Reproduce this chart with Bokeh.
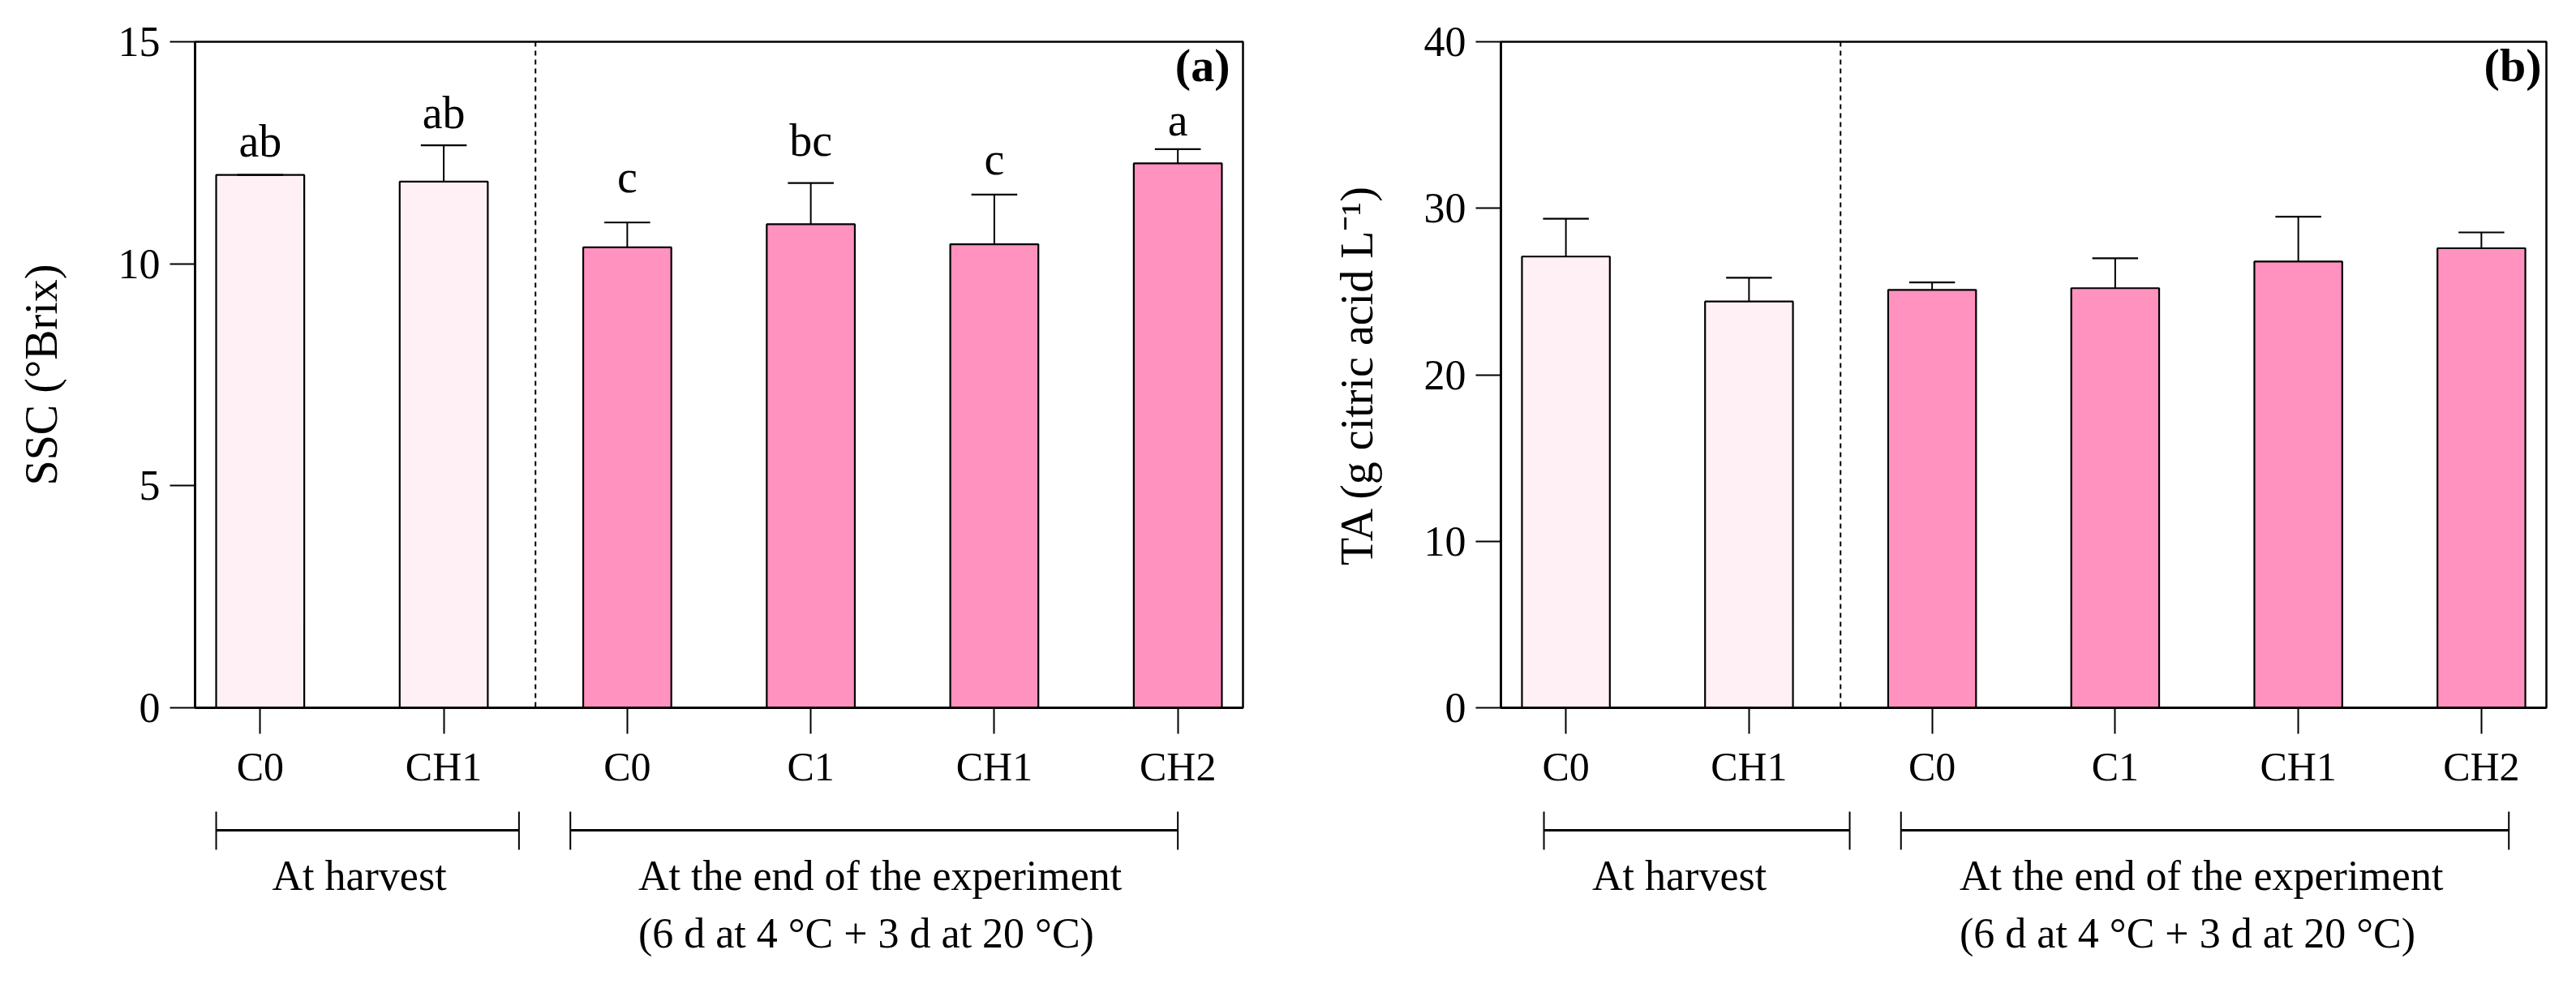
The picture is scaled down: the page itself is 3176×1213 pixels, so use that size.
from bokeh.plotting import figure
from bokeh.layouts import row, column
from bokeh.models import Range1d, FixedTicker, Span, ColumnDataSource
from bokeh.core.properties import value
from bokeh.embed import file_html
from bokeh.resources import INLINE

FONT = "Liberation Serif"

# treatments, in plotting order (2 at harvest, 4 at the end of the experiment)
labels = ["C0", "CH1", "C0", "C1", "CH1", "CH2"]
stage = ["harvest", "harvest", "end", "end", "end", "end"]
stage_colors = {"harvest": "#FFF0F5", "end": "#FF92BF"}

# (a) soluble solids content
ssc = [12.0, 11.85, 10.37, 10.89, 10.44, 12.26]
ssc_err = [0.0, 0.82, 0.56, 0.93, 1.12, 0.32]
ssc_letters = ["ab", "ab", "c", "bc", "c", "a"]
ssc_letter_y = [12.43, 13.07, 11.62, 12.46, 12.03, 12.90]

# (b) titratable acidity
ta = [27.1, 24.4, 25.1, 25.2, 26.8, 27.6]
ta_err = [2.27, 1.43, 0.45, 1.8, 2.69, 0.95]

group_texts = ["At harvest", "At the end of the experiment", "(6 d at 4 \u00b0C + 3 d at 20 \u00b0C)"]

H_TOP, H_BOT = 992, 219
X0, X1 = -0.355, 5.355
DY = -18  # text glyphs sit a little low, lift them


def panel(vals, errs, letters, letter_y, ytop, ystep, ytitle, tag, tag_dx,
          width, border_l, border_r, title_standoff, brackets, text_x):
    n = len(vals)
    xs = list(range(n))
    hi = [v + e for v, e in zip(vals, errs)]
    src = ColumnDataSource(dict(x=xs, top=vals, hi=hi,
                                color=[stage_colors[s] for s in stage]))

    p = figure(width=width, height=H_TOP, x_range=Range1d(X0, X1), y_range=Range1d(0, ytop),
               toolbar_location=None, output_backend="svg",
               min_border_left=border_l, min_border_right=border_r,
               min_border_top=51, min_border_bottom=120)
    p.grid.visible = False
    p.outline_line_color = "black"
    p.outline_line_width = 2.5
    p.outline_line_alpha = 1.0

    p.vbar(x="x", top="top", width=0.48, bottom=0, fill_color="color",
           line_color="black", line_width=2.2, source=src)
    p.segment(x0="x", y0="top", x1="x", y1="hi", line_color="black", line_width=2, source=src)
    p.segment(x0=[x - 0.125 for x in xs], y0=hi, x1=[x + 0.125 for x in xs], y1=hi,
              line_color="black", line_width=2.2)

    if letters:
        p.text(x=xs, y=letter_y, text=letters, y_offset=DY, text_font=value(FONT),
               text_font_size="56px", text_align="center", text_baseline="alphabetic",
               text_color="black")

    p.text(x=[X1], y=[ytop], text=[tag], x_offset=tag_dx, y_offset=14 + DY,
           text_font=value(FONT), text_font_size="58px", text_font_style="bold",
           text_align="right", text_baseline="top", text_color="black")

    n_harvest = stage.count("harvest")
    p.add_layout(Span(location=n_harvest - 0.5, dimension="height", line_color="black",
                      line_width=2, line_dash="6 5"))

    xa = p.xaxis[0]
    xa.ticker = FixedTicker(ticks=xs)
    xa.major_label_overrides = {x: lab for x, lab in zip(xs, labels)}
    xa.major_tick_out = 32
    xa.major_tick_in = 0
    xa.minor_tick_line_color = None
    xa.axis_line_width = 3
    xa.major_tick_line_width = 2
    xa.major_label_standoff = 12
    xa.major_label_text_font = FONT
    xa.major_label_text_font_size = "50px"
    xa.major_label_text_color = "black"

    ya = p.yaxis[0]
    ya.ticker = FixedTicker(ticks=list(range(0, ytop + 1, ystep)))
    ya.major_tick_out = 31
    ya.major_tick_in = 0
    ya.minor_tick_line_color = None
    ya.axis_line_width = 2.5
    ya.major_tick_line_width = 2
    ya.major_label_standoff = 12
    ya.major_label_text_font = FONT
    ya.major_label_text_font_size = "52px"
    ya.major_label_text_color = "black"
    ya.axis_label = ytitle
    ya.axis_label_text_font = FONT
    ya.axis_label_text_font_size = "56px"
    ya.axis_label_text_font_style = "normal"
    ya.axis_label_text_color = "black"
    ya.axis_label_standoff = title_standoff

    q = figure(width=width, height=H_BOT, x_range=p.x_range, y_range=Range1d(H_BOT, 0),
               toolbar_location=None, output_backend="svg",
               x_axis_location=None, y_axis_location=None,
               min_border_left=border_l, min_border_right=border_r,
               min_border_top=0, min_border_bottom=0)
    q.outline_line_color = None
    q.xgrid.visible = False
    q.ygrid.visible = False

    # brackets grouping the treatments
    q.segment(x0=[b[0] for b in brackets], y0=31, x1=[b[1] for b in brackets], y1=31,
              line_color="black", line_width=3.2)
    ends = [e for b in brackets for e in b]
    q.segment(x0=ends, y0=8, x1=ends, y1=55, line_color="black", line_width=2)

    q.text(x=[text_x[0]], y=[105], text=[group_texts[0]], y_offset=DY, text_font=value(FONT),
           text_font_size="52px", text_align="center", text_baseline="alphabetic",
           text_color="black")
    q.text(x=[text_x[1], text_x[1]], y=[105, 176], text=group_texts[1:], y_offset=DY,
           text_font=value(FONT), text_font_size="52px", text_align="left",
           text_baseline="alphabetic", text_color="black")
    return column(p, q)


pa = panel(ssc, ssc_err, ssc_letters, ssc_letter_y, 15, 5, "SSC (\u00b0Brix)", "(a)", -16,
           1590, 240, 58, 61, [(-0.24, 1.41), (1.69, 5.0)], (0.54, 2.06))
pb = panel(ta, ta_err, None, None, 40, 10, "TA (g citric acid L\u207b\u00b9)", "(b)", -6,
           1584, 260, 35, 49, [(-0.12, 1.55), (1.83, 5.15)], (0.62, 2.15))

layout = row(pa, pb)
open("out.html", "w").write(file_html(layout, INLINE))
